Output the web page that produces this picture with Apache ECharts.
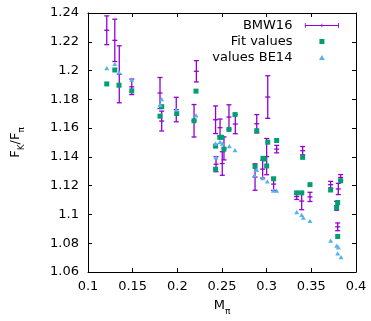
<!DOCTYPE html>
<html><head><meta charset="utf-8">
<script src="https://cdn.jsdelivr.net/npm/echarts@6/dist/echarts.min.js"></script>
<style>html,body{margin:0;padding:0;background:#fff}#c{width:371px;height:321px}</style>
</head><body><div id="c"></div>
<script>
// BMW16 (x, y, error)
const bmwX = [0.121,0.130,0.135,0.149,0.1806,0.1825,0.1988,0.2213,0.2187,0.2428,0.2478,0.2578,0.2649,0.2889,0.3012,0.3000,0.3112,0.2870,0.2955,0.3078,0.3336,0.3392,0.3403,0.3485,0.3716,0.3828,0.3802,0.3783,0.3795,0.2433,0.2522,0.2503];
const bmwY = [1.228,1.221,1.1974,1.1887,1.1844,1.1649,1.1729,1.1995,1.1651,1.1658,1.1603,1.1677,1.1628,1.1630,1.1816,1.1402,1.1454,1.1260,1.1315,1.1211,1.1124,1.1093,1.1443,1.1122,1.1207,1.1257,1.1177,1.1060,1.0914,1.1349,1.1459,1.1354];
const bmwErr = [0.0100,0.0147,0.0198,0.0054,0.0108,0.0069,0.0085,0.0074,0.0113,0.0096,0.0060,0.0085,0.0067,0.0064,0.0148,0.0126,0.0026,0.0092,0.0062,0.0044,0.0020,0.0060,0.0029,0.0032,0.0023,0.0020,0.0039,0.0031,0.0027,0.0052,0.0080,0.0082];
// Fit values
const fitX = [0.121,0.130,0.1347,0.149,0.1825,0.1806,0.2209,0.1993,0.2187,0.2578,0.2646,0.2475,0.2495,0.2428,0.2522,0.2428,0.2889,0.3012,0.3112,0.2959,0.2974,0.3000,0.2870,0.3078,0.3336,0.3392,0.3403,0.3485,0.3716,0.3828,0.3795,0.3783,0.3795];
const fitY = [1.1907,1.2004,1.1898,1.1859,1.1749,1.1683,1.1857,1.1701,1.1651,1.1591,1.1694,1.1536,1.1536,1.1475,1.1454,1.1314,1.1582,1.1502,1.1514,1.1390,1.1385,1.1337,1.1333,1.1248,1.1150,1.1150,1.1397,1.1207,1.1170,1.1234,1.1083,1.1047,1.0847];
// values BE14
const beX = [0.121,0.130,0.1347,0.149,0.1825,0.1806,0.1988,0.2209,0.2428,0.2478,0.2503,0.2582,0.2646,0.2433,0.2862,0.2889,0.2955,0.3007,0.3075,0.3112,0.3336,0.3392,0.3410,0.3485,0.3716,0.3784,0.3802,0.3795,0.3832];
const beY = [1.2017,1.2047,1.1988,1.1938,1.1802,1.1761,1.1729,1.1688,1.1493,1.1505,1.1493,1.1475,1.1447,1.1397,1.1271,1.1310,1.1253,1.1230,1.1165,1.1165,1.1017,1.0997,1.0978,1.0955,1.0818,1.0783,1.0772,1.0730,1.0703];
// axis ticks
const xMin = 0.1, xMax = 0.4, xStep = 0.05;
const yMin = 1.06, yMax = 1.24, yStep = 0.02;

const purple = '#9400d3', green = '#009e73', blue = '#56b4e9';
const FONT = 'DejaVu Sans';

const bmwData = bmwX.map((x,i)=>[x,bmwY[i],bmwErr[i]]);
const fitData = fitX.map((x,i)=>[x,fitY[i]]);
const beData = beX.map((x,i)=>[x,beY[i]]);

function renderErr(params, api){
  const x = api.value(0), y = api.value(1), e = api.value(2);
  const t = api.coord([x, y+e]), b = api.coord([x, y-e]), m = api.coord([x, y]);
  const cw = 2.5;
  const st = {stroke: purple, lineWidth: 1.3, fill: null};
  return {type:'group', children:[
    {type:'line', shape:{x1:t[0],y1:t[1],x2:b[0],y2:b[1]}, style:st},
    {type:'line', shape:{x1:t[0]-cw,y1:t[1],x2:t[0]+cw,y2:t[1]}, style:st},
    {type:'line', shape:{x1:b[0]-cw,y1:b[1],x2:b[0]+cw,y2:b[1]}, style:st},
    {type:'line', shape:{x1:m[0]-cw,y1:m[1],x2:m[0]+cw,y2:m[1]}, style:st}
  ]};
}

const axisCommon = {
  axisLine:{show:true, lineStyle:{color:'#000', width:1}},
  axisTick:{show:true, inside:true, length:4, lineStyle:{color:'#000', width:1}},
  splitLine:{show:false}
};
const lbl = {color:'#000', fontFamily:FONT, fontSize:13};

const chart = echarts.init(document.getElementById('c'), null, {renderer:'canvas'});
chart.setOption({
  animation:false,
  backgroundColor:'#fff',
  grid:{left:88, right:15, top:13, bottom:46, containLabel:false},
  legend:{
    orient:'vertical', right:32, top:19, align:'right', padding:0,
    itemWidth:41, itemHeight:5, itemGap:3,
    textStyle:{color:'#000', fontFamily:FONT, fontSize:13, padding:[0,4,0,0]},
    data:[
      {name:'BMW16', icon:'path://M0,2.5h41v1h-41z M0,0h1v6h-1z M40,0h1v6h-1z M20,1h1v4h-1z'},
      {name:'Fit values', icon:'path://M0,0h5v5h-5z'},
      {name:'values BE14', icon:'path://M2.5,0L5,4.3L0,4.3z'}
    ]
  },
  xAxis:[
    Object.assign({type:'value', min:xMin, max:xMax, interval:xStep, position:'bottom',
      name:'{n|M}{s|π}', nameLocation:'middle', nameGap:27,
      nameTextStyle:{color:'#000', fontFamily:FONT, rich:{n:{fontSize:13, fontFamily:FONT, color:'#000', verticalAlign:'top', lineHeight:17}, s:{fontSize:9, fontFamily:FONT, color:'#000', verticalAlign:'bottom', lineHeight:17}}},
      axisLabel:Object.assign({margin:8}, lbl)}, axisCommon),
    Object.assign({type:'value', min:xMin, max:xMax, interval:xStep, position:'top', axisLabel:{show:false}}, axisCommon)
  ],
  yAxis:[
    Object.assign({type:'value', min:yMin, max:yMax, interval:yStep, position:'left',
      name:'{n|F}{s|K}{n|/F}{s|π}', nameLocation:'middle', nameGap:62, nameRotate:90,
      nameTextStyle:{color:'#000', fontFamily:FONT, rich:{n:{fontSize:13, fontFamily:FONT, color:'#000', verticalAlign:'top', lineHeight:17}, s:{fontSize:9, fontFamily:FONT, color:'#000', verticalAlign:'bottom', lineHeight:17}}},
      axisLabel:Object.assign({margin:9}, lbl)}, axisCommon),
    Object.assign({type:'value', min:yMin, max:yMax, interval:yStep, position:'right', axisLabel:{show:false}}, axisCommon)
  ],
  series:[
    {name:'BMW16', type:'custom', renderItem:renderErr, data:bmwData, encode:{x:0,y:1}, itemStyle:{color:purple}, z:2},
    {name:'Fit values', type:'scatter', data:fitData, symbol:'rect', symbolSize:5, itemStyle:{color:green, opacity:1}, z:3},
    {name:'values BE14', type:'scatter', data:beData, symbol:'triangle', symbolSize:[5,4.3], itemStyle:{color:blue, opacity:1}, z:4}
  ]
});
</script></body></html>
